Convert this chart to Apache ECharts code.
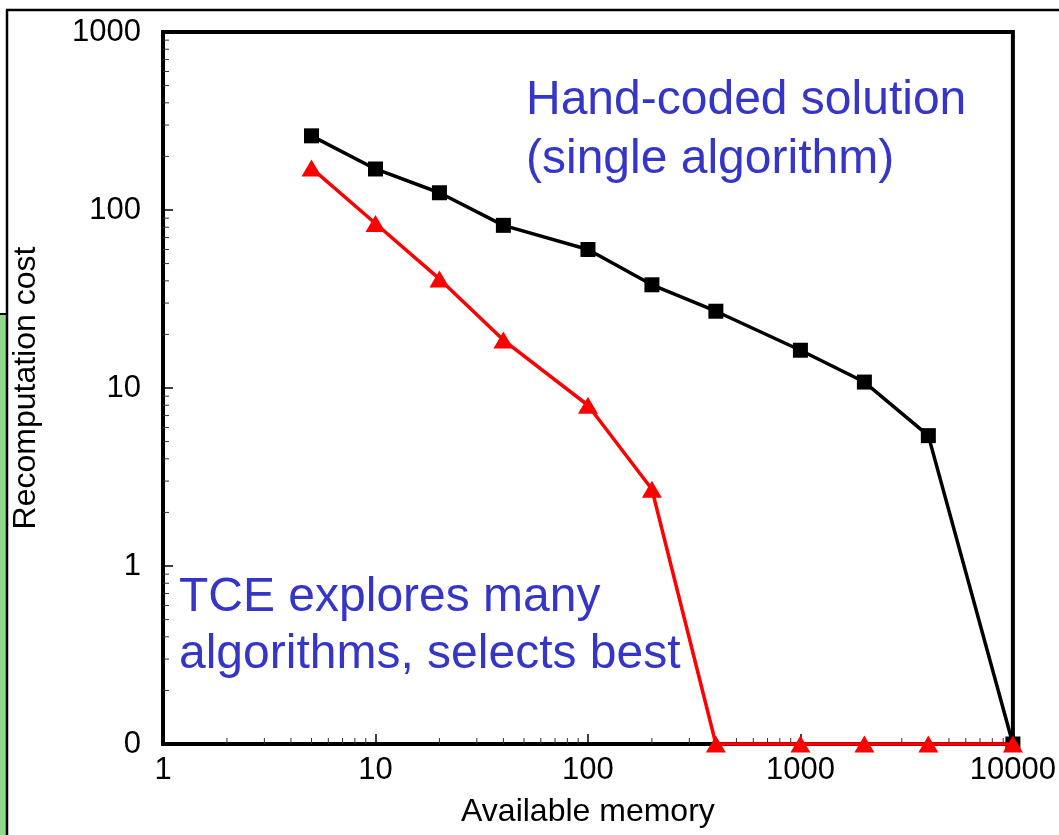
<!DOCTYPE html>
<html><head><meta charset="utf-8">
<script src="https://cdn.jsdelivr.net/npm/echarts@6/dist/echarts.min.js"></script>
<style>html,body{margin:0;padding:0;background:#fff}#c{width:1059px;height:835px}</style>
</head><body><div id="c"></div>
<script>
// Available memory (x) and recomputation cost (y); the "0" row of the log axis sits at 0.1
const memory = [5, 10, 20, 40, 100, 200, 400, 1000, 2000, 4000, 10000];
const handCoded = [261, 170, 125, 82, 60, 38, 27, 16.3, 10.8, 5.4, 0.1];
const tceBest = [172, 84, 41, 18.6, 8.0, 2.7, 0.1, 0.1, 0.1, 0.1, 0.1];
const xTickLabels = ['1', '10', '100', '1000', '10000'];
const yTickLabels = ['0', '1', '10', '100', '1000'];
const xMinorTicks = [2,3,4,5,6,7,8,9, 20,30,40,50,60,70,80,90, 200,300,400,500,600,700,800,900, 2000,3000,4000,5000,6000,7000,8000,9000];
const yMinorTicks = [0.2,0.3,0.4,0.5,0.6,0.7,0.8,0.9, 2,3,4,5,6,7,8,9, 20,30,40,50,60,70,80,90, 200,300,400,500,600,700,800,900];
const xMin = 1, xMax = 10000, yMin = 0.1, yMax = 1000;

const FONT = '"Liberation Sans", Arial, Helvetica, sans-serif';
const chart = echarts.init(document.getElementById('c'), null, {renderer: 'canvas'});

const zip = (xs, ys) => xs.map((x, i) => [x, ys[i]]);

const option = {
  animation: false,
  backgroundColor: '#fff',
  grid: {left: 163, right: 45.5, top: 32, bottom: 91, show: true, borderColor: '#000', borderWidth: 4, backgroundColor: 'transparent'},
  xAxis: {
    type: 'log', logBase: 10, min: xMin, max: xMax,
    name: 'Available memory', nameLocation: 'middle', nameGap: 52,
    nameTextStyle: {fontFamily: FONT, fontSize: 32, color: '#000'},
    axisLine: {show: true, lineStyle: {color: '#000', width: 4}},
    axisTick: {show: true, inside: true, length: 10, lineStyle: {color: '#000', width: 1.5}},
    axisLabel: {margin: 11, fontFamily: FONT, fontSize: 31, color: '#000',
      formatter: v => xTickLabels[Math.round(Math.log10(v))]},
    splitLine: {show: false}
  },
  yAxis: {
    type: 'log', logBase: 10, min: yMin, max: yMax,
    name: 'Recomputation cost', nameLocation: 'middle', nameGap: 121,
    nameTextStyle: {fontFamily: FONT, fontSize: 32, color: '#000'},
    axisLine: {show: true, lineStyle: {color: '#000', width: 4}},
    axisTick: {show: true, inside: true, length: 10, lineStyle: {color: '#000', width: 1.5}},
    axisLabel: {margin: 22, fontFamily: FONT, fontSize: 31, color: '#000',
      formatter: v => yTickLabels[Math.round(Math.log10(v)) + 1]},
    splitLine: {show: false}
  },
  series: [
    {
      type: 'custom', silent: true, z: 1,
      data: xMinorTicks.map(v => [v, yMin]),
      renderItem: (params, api) => {
        const p = api.coord([api.value(0), api.value(1)]);
        return {type: 'line', shape: {x1: p[0], y1: p[1], x2: p[0], y2: p[1] - 6}, style: {stroke: '#333', lineWidth: 1}};
      }
    },
    {
      type: 'custom', silent: true, z: 1,
      data: yMinorTicks.map(v => [xMin, v]),
      renderItem: (params, api) => {
        const p = api.coord([api.value(0), api.value(1)]);
        return {type: 'line', shape: {x1: p[0], y1: p[1], x2: p[0] + 6, y2: p[1]}, style: {stroke: '#333', lineWidth: 1}};
      }
    },
    {
      name: 'Hand-coded', type: 'line', clip: false, z: 3,
      data: zip(memory, handCoded),
      symbol: 'rect', symbolSize: 15,
      lineStyle: {color: '#000', width: 3.5},
      itemStyle: {color: '#000'}
    },
    {
      name: 'TCE', type: 'line', clip: false, z: 4,
      data: zip(memory, tceBest),
      symbol: 'triangle', symbolSize: [20, 17],
      lineStyle: {color: '#ff0000', width: 3.5},
      itemStyle: {color: '#ff0000'}
    }
  ],
  graphic: [
    {type: 'rect', silent: true, shape: {x: 0, y: 314, width: 7, height: 521}, style: {fill: '#8fd98b'}},
    {type: 'line', silent: true, shape: {x1: 0, y1: 314, x2: 7, y2: 314}, style: {stroke: '#000', lineWidth: 2}},
    {type: 'line', silent: true, shape: {x1: 7, y1: 10, x2: 7, y2: 835}, style: {stroke: '#000', lineWidth: 2.5}},
    {type: 'line', silent: true, shape: {x1: 6, y1: 10, x2: 1059, y2: 10}, style: {stroke: '#000', lineWidth: 2.5}},
    {type: 'text', silent: true, x: 526, y: 71, z: 10,
      style: {text: 'Hand-coded solution\n(single algorithm)', font: '48px ' + FONT, fill: '#3535c8', lineHeight: 59}},
    {type: 'text', silent: true, x: 179, y: 569, z: 10,
      style: {text: 'TCE explores many\nalgorithms, selects best', font: '48px ' + FONT, fill: '#3535c8', lineHeight: 57}}
  ]
};
chart.setOption(option);
</script>
</body></html>
